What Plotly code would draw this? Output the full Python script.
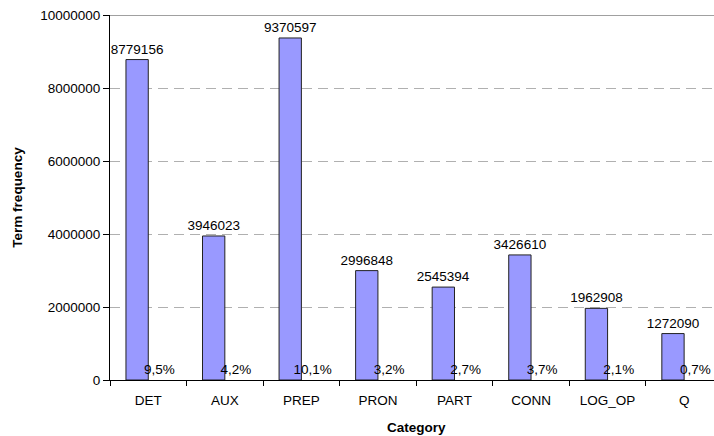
import plotly.graph_objects as go

categories = ["DET", "AUX", "PREP", "PRON", "PART", "CONN", "LOG_OP", "Q"]
term_frequency = [8779156, 3946023, 9370597, 2996848, 2545394, 3426610, 1962908, 1272090]
share_pct = [9.5, 4.2, 10.1, 3.2, 2.7, 3.7, 2.1, 0.7]

FONT = "Arial, Liberation Sans, sans-serif"
FS = 13.5

share_labels = [f"{v:.1f}%".replace(".", ",") for v in share_pct]

fig = go.Figure()
fig.add_trace(go.Bar(
    x=categories, y=term_frequency,
    text=[str(v) for v in term_frequency],
    textposition="outside", cliponaxis=False, constraintext="none",
    textfont=dict(family=FONT, size=FS, color="black"),
    marker=dict(color="#9999FF", line=dict(color="#222222", width=1)),
    showlegend=False, hoverinfo="x+y",
))
# share of each category, drawn as near-zero bars carrying the percentage label
fig.add_trace(go.Bar(
    x=categories, y=[v / 100 for v in share_pct],
    text=share_labels,
    textposition="outside", cliponaxis=False, constraintext="none",
    textfont=dict(family=FONT, size=FS, color="black"),
    marker=dict(color="#9999FF", line=dict(width=0)),
    showlegend=False, hoverinfo="x+text",
))

fig.update_layout(
    width=714, height=436,
    margin=dict(l=110, r=0, t=15, b=56),
    paper_bgcolor="white", plot_bgcolor="white",
    barmode="group", bargap=0.417, bargroupgap=0,
    font=dict(family=FONT, size=FS, color="black"),
    xaxis=dict(
        type="category", range=[-0.5, 7.39],
        showline=True, linecolor="black", linewidth=1,
        ticks="outside", ticklen=5, tickcolor="black", tickson="boundaries",
        ticklabelstandoff=8,
        showgrid=False, zeroline=False,
        tickfont=dict(family=FONT, size=FS, color="black"),
    ),
    yaxis=dict(
        range=[0, 10000000], dtick=2000000, tickformat="d",
        showline=True, linecolor="black", linewidth=1,
        ticks="outside", ticklen=6, tickcolor="black",
        showgrid=True, gridcolor="#b0b0b0", griddash="10px,6px", gridwidth=1,
        zeroline=False,
        tickfont=dict(family=FONT, size=FS, color="black"),
        title=dict(text="<b>Term frequency</b>", standoff=14,
                   font=dict(family=FONT, size=FS, color="black")),
    ),
    shapes=[dict(type="line", xref="paper", x0=0, x1=1, yref="y",
                 y0=10000000, y1=10000000,
                 line=dict(color="#808080", width=1.5))],
    annotations=[dict(text="<b>Category</b>", xref="x", x=3.5,
                      yref="paper", y=0, yshift=-57, showarrow=False,
                      font=dict(family=FONT, size=FS, color="black"))],
)

fig.write_html("out.html")
